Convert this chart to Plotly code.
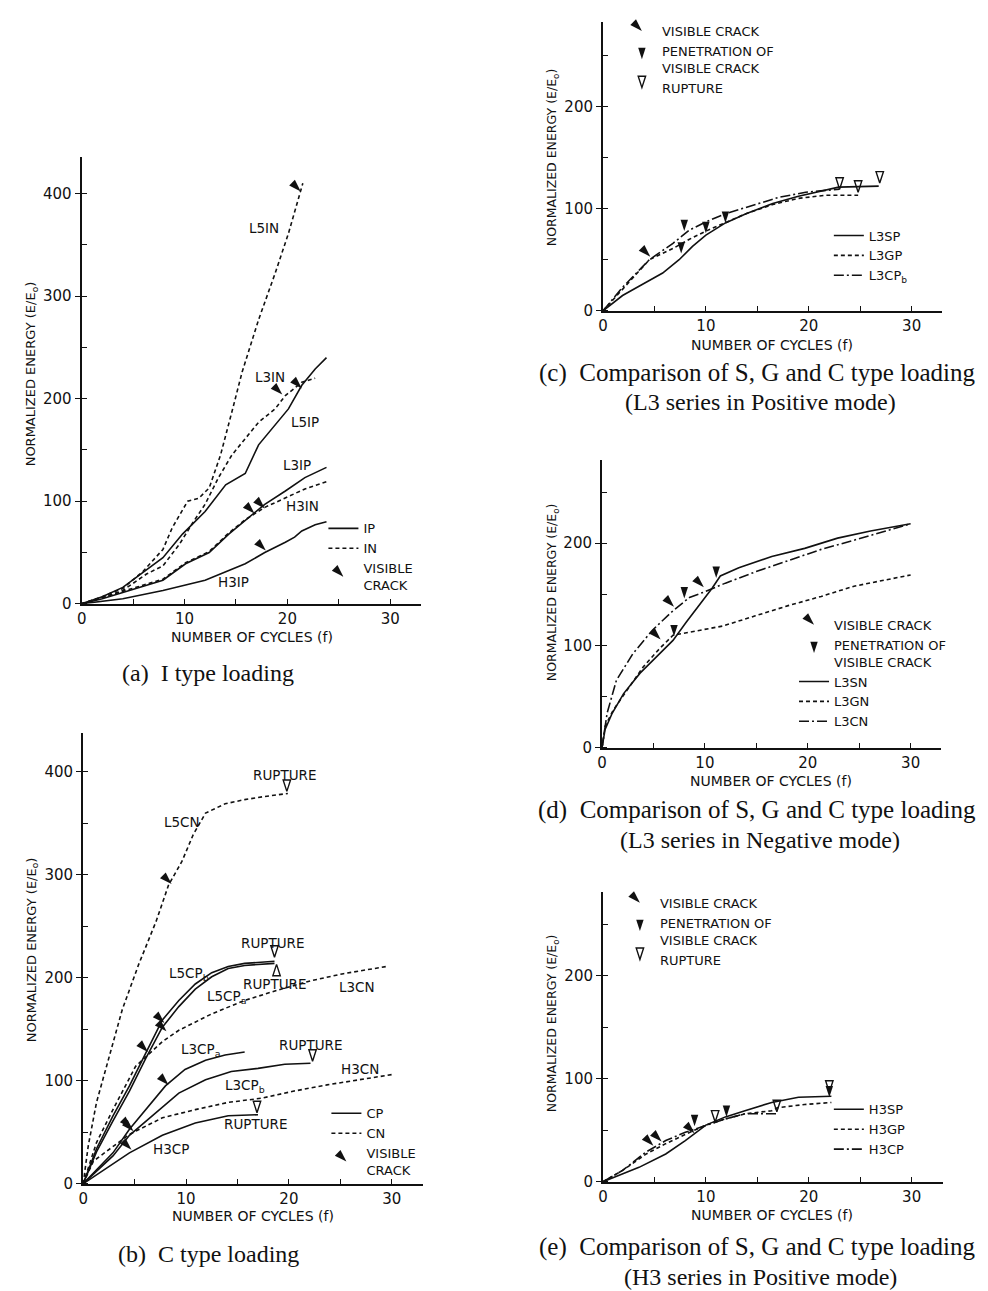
import plotly.graph_objects as go

W, H = 988, 1291

# ---------------- Panel (a): I type loading ----------------
A_L5IN_x = [0, 2, 4, 6, 7.9, 8.8, 10.3, 11.4, 12.4, 13.5, 14.6, 15.6, 17.2, 18.8, 20.1, 21.5]
A_L5IN_y = [0, 7, 15, 32, 53, 74, 100, 103, 113, 145, 187, 226, 277, 322, 361, 410]
A_L3IN_x = [0, 2, 4, 6.3, 7.9, 9.5, 10.8, 12, 13.3, 14.6, 15.9, 17.2, 18.8, 19.8, 21.4, 22.7]
A_L3IN_y = [0, 6, 13, 29, 37, 58, 79, 97, 123, 145, 161, 177, 190, 203, 216, 220]
A_L5IP_x = [0, 2, 4, 6, 7.9, 9.8, 12, 14, 15.9, 17.2, 18.8, 20.1, 21.4, 22.7, 23.8]
A_L5IP_y = [0, 7, 16, 31, 45, 68, 90, 116, 127, 155, 174, 190, 213, 229, 240]
A_L3IP_x = [0, 2, 4, 7.9, 10.1, 12.4, 14.3, 15.9, 17.8, 19.8, 21.7, 23.8]
A_L3IP_y = [0, 5, 11, 23, 39, 50, 68, 81, 97, 110, 123, 133]
A_H3IN_x = [0, 2, 4, 7.9, 10.1, 12.4, 14.3, 15.9, 17.8, 19.8, 21.7, 23.8]
A_H3IN_y = [0, 6, 12, 24, 40, 51, 69, 82, 94, 103, 112, 119]
A_H3IP_x = [0, 4, 7.9, 12, 15.9, 17.8, 19.8, 20.7, 21.4, 22.7, 23.8]
A_H3IP_y = [0, 5, 13, 23, 39, 50, 60, 65, 71, 77, 80]
# visible-crack arrow tips
A_crack_x = [21.3, 19.5, 21.4, 16.8, 17.8, 17.9]
A_crack_y = [402, 204, 210, 88, 93, 52]
A_labels = ["L5IN", "L3IN", "L5IP", "L3IP", "H3IN", "H3IP"]
A_label_x = [17.7, 18.3, 21.7, 20.9, 21.5, 14.8]
A_label_y = [366, 221, 177, 135, 95, 21]

# ---------------- Panel (b): C type loading ----------------
B_L5CN_x = [0, 0.5, 1.3, 2.6, 3.8, 5.4, 7.1, 8.3, 9.6, 10.7, 11.9, 13.8, 15.7, 17.6, 19.9]
B_L5CN_y = [0, 37, 79, 127, 169, 213, 255, 290, 313, 339, 360, 369, 373, 376, 379]
B_L5CPb_x = [0, 1.3, 2.9, 4.5, 6.1, 7.7, 9.3, 10.9, 12.5, 14.1, 15.7, 18.6]
B_L5CPb_y = [0, 34, 66, 95, 127, 159, 178, 194, 205, 211, 214, 216]
B_L5CPa_x = [0, 1.3, 2.9, 4.5, 6.1, 7.7, 9.3, 10.9, 12.5, 14.1, 15.7, 18.6]
B_L5CPa_y = [0, 31, 61, 90, 122, 152, 172, 189, 201, 209, 212, 214]
B_L3CN_x = [0, 1.3, 2.9, 5.1, 7.7, 9.3, 12.5, 15.7, 18.9, 22.1, 25.3, 29.5]
B_L3CN_y = [0, 40, 72, 114, 138, 149, 165, 178, 188, 197, 204, 211]
B_L3CPa_x = [0, 2.9, 4.5, 6.1, 8, 9.9, 11.9, 13.8, 15.7]
B_L3CPa_y = [0, 30, 53, 72, 95, 111, 120, 125, 128]
B_L3CPb_x = [0, 2.9, 4.5, 6.7, 9.3, 11.9, 14.4, 17, 19.6, 22.1]
B_L3CPb_y = [0, 27, 47, 66, 88, 101, 109, 112, 116, 117]
B_H3CN_x = [0, 1, 4.5, 7.7, 10.9, 14.1, 17.3, 20.5, 23.7, 26.9, 30]
B_H3CN_y = [0, 22, 48, 64, 72, 79, 83, 90, 96, 101, 106]
B_H3CP_x = [0, 4.5, 7.7, 10.9, 14.1, 17]
B_H3CP_y = [0, 30, 47, 59, 66, 67]
B_crack_x = [8.6, 7.9, 8.1, 6.3, 8.3, 4.7, 4.9, 4.7]
B_crack_y = [291, 156, 148, 128, 96, 54, 51, 33]
B_rup_dn_x = [19.8, 18.6, 22.3, 16.9]
B_rup_dn_y = [381, 220, 119, 69]
B_rup_up_x = [18.8]
B_rup_up_y = [213]
B_labels = ["RUPTURE", "L5CN", "RUPTURE", "L5CP<sub>b</sub>", "RUPTURE", "L5CP<sub>a</sub>", "L3CN",
            "L3CP<sub>a</sub>", "RUPTURE", "H3CN", "L3CP<sub>b</sub>", "RUPTURE", "H3CP"]
B_label_x = [19.6, 9.6, 18.4, 10.3, 18.6, 13.9, 26.6, 11.4, 22.1, 26.9, 15.7, 16.8, 8.5]
B_label_y = [397, 351, 234, 204, 194, 181, 191, 130, 135, 111, 95, 58, 34]

# ---------------- Panel (c): L3 series, positive ----------------
C_L3SP_x = [0, 1.9, 3.5, 5.8, 7.4, 8.7, 10, 11.9, 13.9, 16.5, 19, 21.6, 22.9, 26.8]
C_L3SP_y = [0, 15, 24, 37, 50, 63, 74, 86, 95, 105, 112, 118, 121, 122]
C_L3GP_x = [0, 1.9, 4.5, 6.8, 8.4, 10, 11.9, 13.9, 16.5, 19, 21.6, 24.8]
C_L3GP_y = [0, 21, 50, 61, 70, 78, 86, 95, 104, 110, 113, 113]
C_L3CPb_x = [0, 1.9, 4.5, 6.8, 8.4, 10, 11.9, 14.5, 17.1, 19.7, 23]
C_L3CPb_y = [0, 23, 50, 66, 79, 87, 95, 103, 111, 116, 119]
C_crack_x = [4.6]
C_crack_y = [53]
C_pen_x = [7.9, 7.6, 10, 11.9]
C_pen_y = [78, 56, 76, 86]
C_rup_x = [26.9, 24.8, 23.0]
C_rup_y = [125, 116, 119]

# ---------------- Panel (d): L3 series, negative ----------------
D_L3SN_x = [0, 0.3, 1, 2.1, 3.7, 5.3, 6.9, 8.2, 9.5, 10.7, 11.5, 13.3, 16.5, 19.7, 22.9, 26.1, 30]
D_L3SN_y = [0, 18, 34, 53, 73, 89, 105, 123, 140, 156, 168, 176, 187, 195, 205, 212, 219]
D_L3GN_x = [0, 0.3, 1.1, 2.4, 4, 5.6, 6.9, 8.5, 11.7, 14.9, 18.1, 21.3, 24.5, 30]
D_L3GN_y = [0, 21, 37, 56, 79, 97, 110, 113, 119, 129, 139, 148, 158, 169]
D_L3CN_x = [0, 0.5, 1.4, 3, 4.9, 6.9, 8.5, 10.1, 12, 14.9, 18.1, 21.3, 24.5, 27.7, 30]
D_L3CN_y = [0, 34, 66, 92, 115, 134, 147, 153, 161, 172, 183, 194, 203, 212, 219]
D_crack_x = [7.0, 5.7, 9.9]
D_crack_y = [138, 106, 157]
D_pen_x = [8.0, 11.1, 7.0]
D_pen_y = [146, 166, 109]

# ---------------- Panel (e): H3 series, positive ----------------
E_H3SP_x = [0, 1.9, 3.5, 6.1, 8, 10, 11.9, 13.8, 16.4, 19, 22.2]
E_H3SP_y = [0, 8, 14, 27, 40, 55, 63, 69, 77, 82, 83]
E_H3GP_x = [0, 1.9, 4.2, 6.1, 8, 10, 11.9, 13.8, 16.4, 17, 19.6, 22.2]
E_H3GP_y = [0, 11, 27, 37, 46, 55, 61, 66, 69, 72, 75, 77]
E_H3CP_x = [0, 1.9, 4.2, 6.1, 8, 10, 11.9, 13.8, 16.9]
E_H3CP_y = [0, 11, 29, 40, 48, 55, 61, 66, 66]
E_crack_x = [4.9, 5.7, 8.9]
E_crack_y = [35, 39, 47]
E_pen_x = [8.9, 12.0, 22.0]
E_pen_y = [54, 63, 82]
E_rup_x = [10.9, 16.9, 22.0]
E_rup_y = [58, 68, 87]

X_TICKS = [0, 10, 20, 30]
Y_TICKS_BIG = [0, 100, 200, 300, 400]
Y_TICKS_SMALL = [0, 100, 200]

# ---------------- layout geometry (pixels) ----------------
PANELS = {
    "a": dict(ax="", L=69, R=410, T=150, B=600, ppx=10.34, ppy=1.033),
    "b": dict(ax="2", L=70.5, R=412, T=730, B=1184, ppx=10.34, ppy=1.037),
    "c": dict(ax="3", L=593, R=934, T=14, B=305, ppx=10.34, ppy=1.03),
    "d": dict(ax="4", L=592, R=933, T=455, B=745, ppx=10.34, ppy=1.03),
    "e": dict(ax="5", L=593, R=935, T=890, B=1182, ppx=10.34, ppy=1.037),
}

SANS = "DejaVu Sans"
SERIF = "Liberation Serif"
BLACK = "#111111"
DASH = "4px,3px"
DASHDOT = "10px,3px,2px,3px"


def px(x):
    return x / W


def py(y):
    return 1 - y / H


fig = go.Figure()


def xa(p):
    return "x" + PANELS[p]["ax"]


def ya(p):
    return "y" + PANELS[p]["ax"]


def add_line(p, x, y, dash="solid", width=1.6):
    fig.add_trace(go.Scatter(x=x, y=y, mode="lines", xaxis=xa(p), yaxis=ya(p),
                             line=dict(color=BLACK, width=width, dash=dash),
                             showlegend=False, hoverinfo="skip"))


CRACK = dict(symbol="arrow", angle=135, size=13, color=BLACK)
PEN = dict(symbol="arrow", angle=180, size=12, color=BLACK)
RUP = dict(symbol="arrow-open", angle=180, size=12, color=BLACK, line=dict(width=1.4, color=BLACK))
RUP_UP = dict(symbol="arrow-open", angle=0, size=12, color=BLACK, line=dict(width=1.4, color=BLACK))


def add_markers(p, x, y, marker):
    fig.add_trace(go.Scatter(x=x, y=y, mode="markers", xaxis=xa(p), yaxis=ya(p),
                             marker=marker, showlegend=False, hoverinfo="skip"))


def legend_line(p, name, dash, legend):
    fig.add_trace(go.Scatter(x=[None], y=[None], mode="lines", xaxis=xa(p), yaxis=ya(p),
                             line=dict(color=BLACK, width=1.6, dash=dash), name=name,
                             legend=legend, showlegend=True))


def legend_marker(p, name, marker, legend):
    fig.add_trace(go.Scatter(x=[None], y=[None], mode="markers", xaxis=xa(p), yaxis=ya(p),
                             marker=marker, name=name, legend=legend, showlegend=True))


# panel a
add_line("a", A_L5IN_x, A_L5IN_y, DASH)
add_line("a", A_L3IN_x, A_L3IN_y, DASH)
add_line("a", A_L5IP_x, A_L5IP_y)
add_line("a", A_L3IP_x, A_L3IP_y)
add_line("a", A_H3IN_x, A_H3IN_y, DASH)
add_line("a", A_H3IP_x, A_H3IP_y)
add_markers("a", A_crack_x, A_crack_y, CRACK)
legend_line("a", "IP", "solid", "legend")
legend_line("a", "IN", DASH, "legend")
legend_marker("a", "VISIBLE<br>CRACK", CRACK, "legend")

# panel b
add_line("b", B_L5CN_x, B_L5CN_y, DASH)
add_line("b", B_L5CPb_x, B_L5CPb_y)
add_line("b", B_L5CPa_x, B_L5CPa_y)
add_line("b", B_L3CN_x, B_L3CN_y, DASH)
add_line("b", B_L3CPa_x, B_L3CPa_y)
add_line("b", B_L3CPb_x, B_L3CPb_y)
add_line("b", B_H3CN_x, B_H3CN_y, DASH)
add_line("b", B_H3CP_x, B_H3CP_y)
add_markers("b", B_crack_x, B_crack_y, CRACK)
add_markers("b", B_rup_dn_x, B_rup_dn_y, RUP)
add_markers("b", B_rup_up_x, B_rup_up_y, RUP_UP)
legend_line("b", "CP", "solid", "legend2")
legend_line("b", "CN", DASH, "legend2")
legend_marker("b", "VISIBLE<br>CRACK", CRACK, "legend2")

# panel c
add_line("c", C_L3SP_x, C_L3SP_y)
add_line("c", C_L3GP_x, C_L3GP_y, DASH)
add_line("c", C_L3CPb_x, C_L3CPb_y, DASHDOT)
add_markers("c", C_crack_x, C_crack_y, CRACK)
add_markers("c", C_pen_x, C_pen_y, PEN)
add_markers("c", C_rup_x, C_rup_y, RUP)
legend_marker("c", "VISIBLE CRACK", CRACK, "legend3")
legend_marker("c", "PENETRATION OF<br>VISIBLE CRACK", PEN, "legend3")
legend_marker("c", "RUPTURE", RUP, "legend3")
legend_line("c", "L3SP", "solid", "legend4")
legend_line("c", "L3GP", DASH, "legend4")
legend_line("c", "L3CP<sub>b</sub>", DASHDOT, "legend4")

# panel d
add_line("d", D_L3SN_x, D_L3SN_y)
add_line("d", D_L3GN_x, D_L3GN_y, DASH)
add_line("d", D_L3CN_x, D_L3CN_y, DASHDOT)
add_markers("d", D_crack_x, D_crack_y, CRACK)
add_markers("d", D_pen_x, D_pen_y, PEN)
legend_marker("d", "VISIBLE CRACK", CRACK, "legend5")
legend_marker("d", "PENETRATION OF<br>VISIBLE CRACK", PEN, "legend5")
legend_line("d", "L3SN", "solid", "legend5")
legend_line("d", "L3GN", DASH, "legend5")
legend_line("d", "L3CN", DASHDOT, "legend5")

# panel e
add_line("e", E_H3SP_x, E_H3SP_y)
add_line("e", E_H3GP_x, E_H3GP_y, DASH)
add_line("e", E_H3CP_x, E_H3CP_y, DASHDOT)
add_markers("e", E_crack_x, E_crack_y, CRACK)
add_markers("e", E_pen_x, E_pen_y, PEN)
add_markers("e", E_rup_x, E_rup_y, RUP)
legend_marker("e", "VISIBLE CRACK", CRACK, "legend6")
legend_marker("e", "PENETRATION OF<br>VISIBLE CRACK", PEN, "legend6")
legend_marker("e", "RUPTURE", RUP, "legend6")
legend_line("e", "H3SP", "solid", "legend7")
legend_line("e", "H3GP", DASH, "legend7")
legend_line("e", "H3CP", DASHDOT, "legend7")

# ---------------- axes ----------------
layout = dict(width=W, height=H, margin=dict(l=0, r=0, t=0, b=0),
              paper_bgcolor="white", plot_bgcolor="white", showlegend=True)

for key, p in PANELS.items():
    xr = (p["R"] - p["L"]) / p["ppx"]
    yr = (p["B"] - p["T"]) / p["ppy"]
    yt = Y_TICKS_BIG if key in ("a", "b") else Y_TICKS_SMALL
    layout["xaxis" + p["ax"]] = dict(
        domain=[px(p["L"]), px(p["R"])], range=[0, xr], anchor=ya(key),
        showline=True, linecolor=BLACK, linewidth=1.6, showgrid=False, zeroline=False,
        tickmode="array", tickvals=X_TICKS, ticktext=[str(v) for v in X_TICKS],
        ticks="inside", ticklen=5, tickwidth=1.4, tickcolor=BLACK,
        minor=dict(tickmode="linear", tick0=0, dtick=5, ticks="inside", ticklen=5,
                   tickwidth=1.4, tickcolor=BLACK),
        tickfont=dict(family=SANS, size=15, color=BLACK), fixedrange=True)
    layout["yaxis" + p["ax"]] = dict(
        domain=[py(p["B"]), py(p["T"])], range=[0, yr], anchor=xa(key),
        showline=True, linecolor=BLACK, linewidth=2, showgrid=False, zeroline=False,
        tickmode="array", tickvals=yt, ticktext=[str(v) for v in yt],
        ticks="outside", ticklen=5, tickwidth=1.4, tickcolor=BLACK,
        minor=dict(tickmode="linear", tick0=0, dtick=50, ticks="inside", ticklen=5,
                   tickwidth=1.4, tickcolor=BLACK),
        tickfont=dict(family=SANS, size=15, color=BLACK), fixedrange=True)


def leg(xpix, ypix, size=13):
    return dict(x=px(xpix), y=py(ypix), xanchor="left", yanchor="top",
                bgcolor="rgba(0,0,0,0)", borderwidth=0, tracegroupgap=0,
                font=dict(family=SANS, size=size, color=BLACK), itemwidth=30)


layout["legend"] = leg(312, 509)
layout["legend2"] = leg(315, 1098)
layout["legend3"] = leg(612, 8)
layout["legend4"] = leg(820, 214)
layout["legend5"] = leg(785, 606)
layout["legend6"] = leg(610, 886)
layout["legend7"] = leg(820, 1094)

fig.update_layout(**layout)

# ---------------- annotations ----------------
ann = []


def data_text(p, x, y, t, size=13.5):
    ann.append(dict(x=x, y=y, xref=xa(p), yref=ya(p), text=t, showarrow=False,
                    font=dict(family=SANS, size=size, color=BLACK)))


for t, x, y in zip(A_labels, A_label_x, A_label_y):
    data_text("a", x, y, t)
for t, x, y in zip(B_labels, B_label_x, B_label_y):
    data_text("b", x, y, t)


def paper_text(xpix, ypix, t, size, family=SANS, angle=0):
    ann.append(dict(x=px(xpix), y=py(ypix), xref="paper", yref="paper", text=t,
                    showarrow=False, textangle=angle, xanchor="center", yanchor="middle",
                    font=dict(family=family, size=size, color=BLACK)))


YT = "NORMALIZED ENERGY (E/E<sub>o</sub>)"
XT = "NUMBER OF CYCLES (f)"
paper_text(19, 368, YT, 13, angle=-90)
paper_text(240, 633, XT, 14)
paper_text(19, 948, YT, 13, angle=-90)
paper_text(241, 1216, XT, 14)
paper_text(543, 150, YT, 12.5, angle=-90)
paper_text(763, 339, XT, 14)
paper_text(543, 588, YT, 12.5, angle=-90)
paper_text(762, 778, XT, 14)
paper_text(543, 1022, YT, 12.5, angle=-90)
paper_text(763, 1215, XT, 14)

NB = "\u00a0"
paper_text(196, 670, "(a)" + NB + NB + "I type loading", 24, SERIF)
paper_text(196, 1255, "(b)" + NB + NB + "C type loading", 24, SERIF)
paper_text(748, 368, "(c)" + NB + NB + "Comparison of S, G and C type loading", 25, SERIF)
paper_text(751, 397, "(L3 series in Positive mode)", 24, SERIF)
paper_text(748, 808, "(d)" + NB + NB + "Comparison of S, G and C type loading", 25, SERIF)
paper_text(751, 838, "(L3 series in Negative mode)", 24, SERIF)
paper_text(748, 1248, "(e)" + NB + NB + "Comparison of S, G and C type loading", 25, SERIF)
paper_text(751, 1278, "(H3 series in Positive mode)", 24, SERIF)

fig.update_layout(annotations=ann)
fig.write_html("out.html")
